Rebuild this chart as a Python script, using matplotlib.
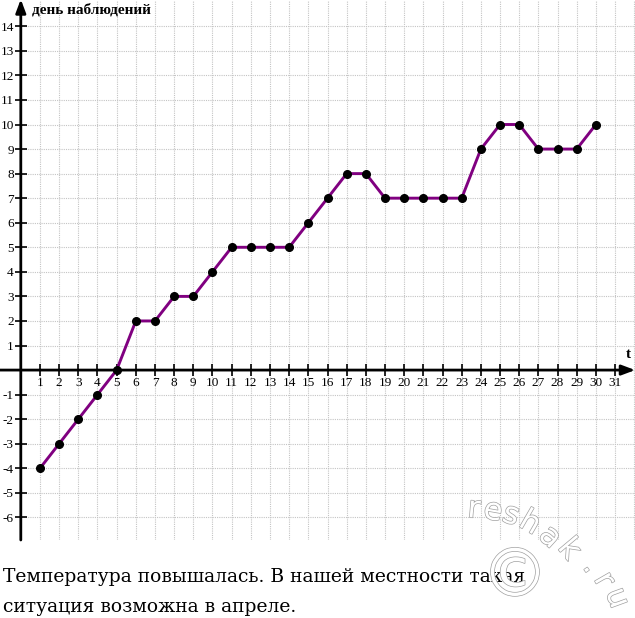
import matplotlib.pyplot as plt
import matplotlib.patheffects as pe

days = list(range(1, 31))
temps = [-4, -3, -2, -1, 0, 2, 2, 3, 3, 4, 5, 5, 5, 5, 6, 7, 8, 8,
         7, 7, 7, 7, 7, 9, 10, 10, 9, 9, 9, 10]
x_ticks = list(range(1, 32))
y_ticks = [t for t in range(-6, 15) if t != 0]
y_title = "день наблюдений"
x_title = "t"
caption = ["Температура повышалась. В нашей местности такая",
           "ситуация возможна в апреле."]

W, H = 635, 618
fig = plt.figure(figsize=(W / 100, H / 100), dpi=100)
ax = fig.add_axes([0, 78 / H, 1, 540 / H])
ax.set_xlim(-1.085, 32.04)
ax.set_ylim(-6.92, 15.07)

# dotted grid, only to the right of the y axis
grid_kw = dict(color="#c4c4c4", lw=0.8, ls=(0, (1, 1)), zorder=0)
ax.hlines(list(range(-6, 15)), 0, 32.04, **grid_kw)
ax.vlines(list(range(1, 33)), -6.92, 15.07, **grid_kw)

# axes through zero
for s in ax.spines.values():
    s.set_visible(False)
ax.spines["left"].set_position(("data", 0))
ax.spines["bottom"].set_position(("data", 0))
ax.annotate("", xy=(32.05, 0), xytext=(-1.085, 0),
            arrowprops=dict(arrowstyle="-|>,head_length=0.8,head_width=0.3",
                            lw=2, color="black", shrinkA=0, shrinkB=0))
ax.annotate("", xy=(0, 15.1), xytext=(0, -6.92),
            arrowprops=dict(arrowstyle="-|>,head_length=0.8,head_width=0.3",
                            lw=2, color="black", shrinkA=0, shrinkB=0),
            annotation_clip=False)

ax.set_xticks(x_ticks)
ax.set_xticklabels([str(t) for t in x_ticks])
ax.set_yticks(y_ticks)
ax.set_yticklabels([str(t) for t in y_ticks])
ax.tick_params(direction="inout", length=8, width=1.2, color="black",
               labelsize=9.5, pad=1)
for lab in ax.get_xticklabels() + ax.get_yticklabels():
    lab.set_fontfamily("Liberation Serif")

ax.plot(days, temps, color="#800080", lw=2.1, marker="o", ms=5.5,
        mfc="black", mec="black", zorder=5, clip_on=False)

ax.text(32 / W, 1 - 10 / 540, y_title, transform=ax.transAxes,
        fontfamily="Liberation Serif", fontweight="bold", fontsize=11,
        ha="left", va="center")
ax.text(31.67, 0.62, x_title, fontfamily="Liberation Serif",
        fontweight="bold", fontsize=11, ha="center", va="center")

# caption below the chart
for i, line in enumerate(caption):
    fig.text(3 / W, 1 - (577 + i * 30) / H, line, fontfamily="DejaVu Serif",
             fontsize=13.5, ha="left", va="center")

# watermark
wm = [("r", 474, 509, -5), ("e", 493, 511, -10), ("s", 511, 515, -18),
      ("h", 530, 523, -30), ("a", 550, 537, -42), ("k", 569, 549, -50),
      (".", 592, 566, -55), ("r", 604, 580, -60), ("u", 617, 598, -70)]
outline = [pe.withStroke(linewidth=1.0, foreground="#a0a0a0")]
for ch, px, py, rot in wm:
    fig.text(px / W, 1 - py / H, ch, fontsize=22, color="white",
             rotation=rot, ha="center", va="center", path_effects=outline,
             zorder=10)
fig.text(515 / W, 1 - 577 / H, "©", fontsize=48, color="white",
         ha="center", va="center", path_effects=outline, zorder=10)

fig.savefig("out.png", dpi=100)
